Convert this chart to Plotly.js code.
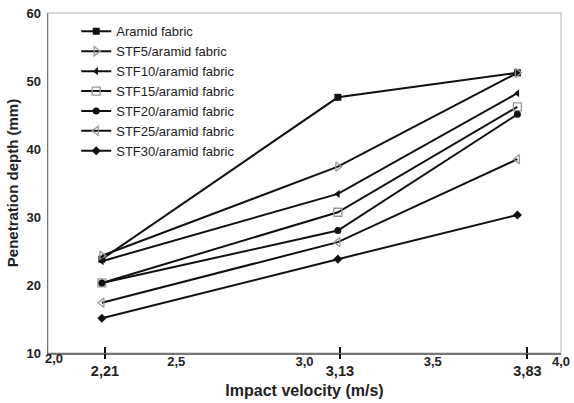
<!DOCTYPE html>
<html>
<head>
<meta charset="utf-8">
<script src="https://cdn.plot.ly/plotly-3.0.1.min.js"></script>
<style>html,body{margin:0;padding:0;background:#fff;}#chart{width:574px;height:403px;}</style>
</head>
<body>
<div id="chart"></div>
<script>
// Impact velocity (m/s)
const velocity = [2.21, 3.13, 3.83];
// Penetration depth (mm)
const seriesNames = ["Aramid fabric","STF5/aramid fabric","STF10/aramid fabric","STF15/aramid fabric","STF20/aramid fabric","STF25/aramid fabric","STF30/aramid fabric"];
const aramid = [23.8, 47.6, 51.2];
const stf5   = [24.3, 37.4, 51.2];
const stf10  = [23.5, 33.4, 48.2];
const stf15  = [20.3, 30.7, 46.2];
const stf20  = [20.3, 28.0, 45.1];
const stf25  = [17.4, 26.3, 38.5];
const stf30  = [15.1, 23.8, 30.3];
const seriesValues = [aramid, stf5, stf10, stf15, stf20, stf25, stf30];
const markerSymbols = ["square","triangle-right-open","triangle-left","square-open","circle","triangle-left-open","diamond"];

// tick labels
const minorTickVals = [2.5, 3.0, 3.5, 4.0];
const minorTickText = ["2,5","3,0","3,5","4,0"];
const edgeTickVals = [2.0];
const edgeTickText = ["2,0"];
const velocityTickPos = [2.222, 3.138, 3.869];
const velocityTickText = ["2,21","3,13","3,83"];
const yTickVals = [10, 20, 30, 40, 50, 60];

const font = "Liberation Sans, Arial, sans-serif";
const tickFont = {family: font, size: 13, weight: "bold", color: "#222"};

const traces = seriesNames.map((name, i) => {
  const open = markerSymbols[i].endsWith("-open");
  return {
    type: "scatter", mode: "lines+markers", name: name,
    x: velocity, y: seriesValues[i],
    line: {color: "#111", width: 2},
    marker: {
      symbol: markerSymbols[i],
      size: open ? 8 : 7,
      color: open ? "#999" : "#111",
      line: {color: open ? "#999" : "#111", width: open ? 1.3 : 0}
    },
    xaxis: "x", yaxis: "y"
  };
});
// helper traces to activate tick-overlay axes (no visible marks)
["x2","x3","x4"].forEach(ax => traces.push({type:"scatter", mode:"none", x:[], y:[], xaxis:ax, yaxis:"y", showlegend:false, hoverinfo:"skip"}));

const layout = {
  width: 574, height: 403,
  margin: {l: 48, r: 13, t: 13, b: 50},
  paper_bgcolor: "#fff", plot_bgcolor: "#fff",
  font: {family: font, color: "#111"},
  showlegend: true,
  legend: {
    x: 0.055, y: 0.99, xanchor: "left", yanchor: "top",
    bgcolor: "rgba(0,0,0,0)", borderwidth: 0,
    font: {family: font, size: 13, color: "#222"},
    itemwidth: 30, tracegroupgap: 0
  },
  xaxis: {
    range: [2, 4], tickmode: "array", tickvals: minorTickVals, ticktext: minorTickText,
    ticks: "", showgrid: false, zeroline: false, ticklabelstandoff: -4,
    showline: true, linecolor: "#777", linewidth: 1.5,
    tickfont: tickFont,
    title: {text: "Impact velocity (m/s)", font: {family: font, size: 16, weight: "bold", color: "#222"}, standoff: 16},
    fixedrange: true
  },
  xaxis2: {
    overlaying: "x", anchor: "y", side: "bottom", matches: "x",
    range: [2, 4], tickmode: "array", tickvals: velocityTickPos, ticktext: velocityTickText,
    ticks: "outside", ticklen: 5, tickwidth: 2, tickcolor: "#111",
    showgrid: false, zeroline: false, showline: false,
    tickfont: {family: font, size: 14.5, weight: "bold", color: "#222"}
  },
  xaxis3: {
    overlaying: "x", anchor: "y", side: "bottom", matches: "x",
    range: [2, 4], tickmode: "array", tickvals: velocityTickPos,
    ticks: "inside", ticklen: 6, tickwidth: 2, tickcolor: "#111",
    showticklabels: false, showgrid: false, zeroline: false, showline: false
  },
  xaxis4: {
    overlaying: "x", anchor: "y", side: "bottom", matches: "x",
    range: [2, 4], tickmode: "array", tickvals: edgeTickVals, ticktext: edgeTickText,
    ticks: "", ticklabelstandoff: -4, ticklabelshift: 6,
    showgrid: false, zeroline: false, showline: false,
    tickfont: tickFont
  },
  yaxis: {
    range: [10, 60], tickmode: "array", tickvals: yTickVals,
    ticks: "", showgrid: false, zeroline: false, ticklabelstandoff: 3,
    showline: true, linecolor: "#777", linewidth: 1.5,
    tickfont: tickFont,
    title: {text: "Penetration depth (mm)", font: {family: font, size: 15, weight: "bold", color: "#222"}, standoff: 4},
    fixedrange: true
  },
  shapes: [{
    type: "rect", xref: "paper", yref: "paper", x0: 0, x1: 1, y0: 0, y1: 1,
    line: {color: "#ccc", width: 1.5}, layer: "below"
  }]
};

Plotly.newPlot("chart", traces, layout, {staticPlot: true, displayModeBar: false});
</script>
</body>
</html>
